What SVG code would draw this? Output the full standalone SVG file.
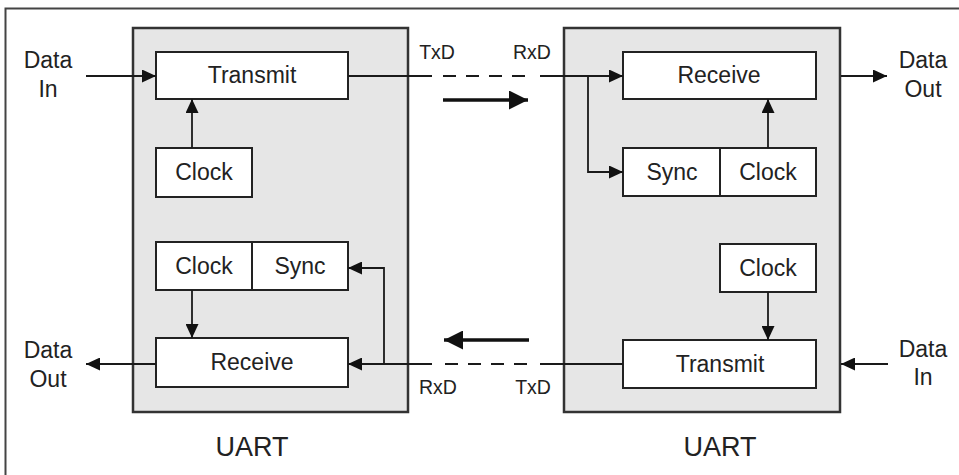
<svg xmlns="http://www.w3.org/2000/svg" width="959" height="475" viewBox="0 0 959 475">
<style>
text{font-family:"Liberation Sans",Arial,Helvetica,sans-serif;fill:#222;text-anchor:middle}
.lbl{font-size:23px}
.sig{font-size:19.5px}
.uart{font-size:27px}
.uartbox{fill:#e6e6e6;stroke:#333;stroke-width:2.5}
.blk{fill:#fff;stroke:#222;stroke-width:2}
.ln{fill:none;stroke:#1a1a1a;stroke-width:1.8}
.arr{marker-end:url(#ah)}
.dash{stroke-dasharray:13 10}
.thick{fill:none;stroke:#111;stroke-width:3.5;marker-end:url(#big)}
</style>
<defs>
<marker id="ah" markerUnits="userSpaceOnUse" markerWidth="14" markerHeight="13" refX="14" refY="6.5" orient="auto"><path d="M0,0 L14,6.5 L0,13 z" fill="#111"/></marker>
<marker id="big" markerUnits="userSpaceOnUse" markerWidth="19" markerHeight="19" refX="19" refY="9.5" orient="auto"><path d="M0,0 L19,9.5 L0,19 z" fill="#111"/></marker>
</defs>
<rect width="959" height="475" fill="#fff"/>
<path d="M5.5,475 V8.5 H959" fill="none" stroke="#444" stroke-width="2"/>

<g id="uart-left">
<rect class="uartbox" x="133" y="28" width="275" height="384"/>
<text class="uart" x="252" y="456">UART</text>
</g>
<g id="uart-right">
<rect class="uartbox" x="564" y="28" width="276" height="384"/>
<text class="uart" x="720" y="456">UART</text>
</g>

<g id="left-transmit"><rect class="blk" x="156" y="52" width="192" height="47"/><text class="lbl" x="252" y="83">Transmit</text></g>
<g id="left-clock-tx"><rect class="blk" x="156" y="148" width="96" height="49"/><text class="lbl" x="204" y="180">Clock</text></g>
<g id="left-clock-rx"><rect class="blk" x="156" y="242" width="96" height="48"/><text class="lbl" x="204" y="274">Clock</text></g>
<g id="left-sync"><rect class="blk" x="252" y="242" width="96" height="48"/><text class="lbl" x="300" y="274">Sync</text></g>
<g id="left-receive"><rect class="blk" x="156" y="338" width="192" height="49"/><text class="lbl" x="252" y="370">Receive</text></g>

<g id="right-receive"><rect class="blk" x="623" y="52" width="193" height="47"/><text class="lbl" x="719" y="83">Receive</text></g>
<g id="right-sync"><rect class="blk" x="623" y="148" width="97" height="48"/><text class="lbl" x="672" y="180">Sync</text></g>
<g id="right-clock-rx"><rect class="blk" x="720" y="148" width="96" height="48"/><text class="lbl" x="768" y="180">Clock</text></g>
<g id="right-clock-tx"><rect class="blk" x="720" y="244" width="96" height="48"/><text class="lbl" x="768" y="276">Clock</text></g>
<g id="right-transmit"><rect class="blk" x="623" y="340" width="193" height="48"/><text class="lbl" x="720" y="372">Transmit</text></g>

<g id="labels">
<text class="lbl" x="48" y="68">Data</text><text class="lbl" x="48" y="97">In</text>
<text class="lbl" x="923" y="68">Data</text><text class="lbl" x="923" y="97">Out</text>
<text class="lbl" x="48" y="358">Data</text><text class="lbl" x="48" y="387">Out</text>
<text class="lbl" x="923" y="357">Data</text><text class="lbl" x="923" y="385">In</text>
<text class="sig" x="437" y="59">TxD</text>
<text class="sig" x="532" y="59">RxD</text>
<text class="sig" x="438" y="394">RxD</text>
<text class="sig" x="533" y="394">TxD</text>
</g>

<g id="connectors">
<line class="ln arr" x1="86" y1="76" x2="156" y2="76"/>
<line class="ln arr" x1="192" y1="148" x2="192" y2="99"/>
<line class="ln" x1="348" y1="76" x2="432" y2="76"/>
<line class="ln dash" x1="443" y1="76" x2="527" y2="76"/>
<line class="ln arr" x1="540" y1="76" x2="623" y2="76"/>
<polyline class="ln arr" points="588,76 588,172 623,172"/>
<line class="ln arr" x1="768" y1="148" x2="768" y2="99"/>
<line class="ln arr" x1="841" y1="76" x2="887" y2="76"/>
<line class="thick" x1="443" y1="100" x2="528" y2="100"/>

<line class="ln" x1="623" y1="364" x2="540" y2="364"/>
<line class="ln dash" x1="527" y1="364" x2="443" y2="364"/>
<line class="ln arr" x1="432" y1="364" x2="348" y2="364"/>
<polyline class="ln arr" points="384,364 384,268 348,268"/>
<line class="ln arr" x1="192" y1="290" x2="192" y2="338"/>
<line class="ln arr" x1="156" y1="364" x2="86" y2="364"/>
<line class="ln arr" x1="768" y1="292" x2="768" y2="340"/>
<line class="ln arr" x1="888" y1="364" x2="841" y2="364"/>
<line class="thick" x1="529" y1="340" x2="444" y2="340"/>
</g>
</svg>
